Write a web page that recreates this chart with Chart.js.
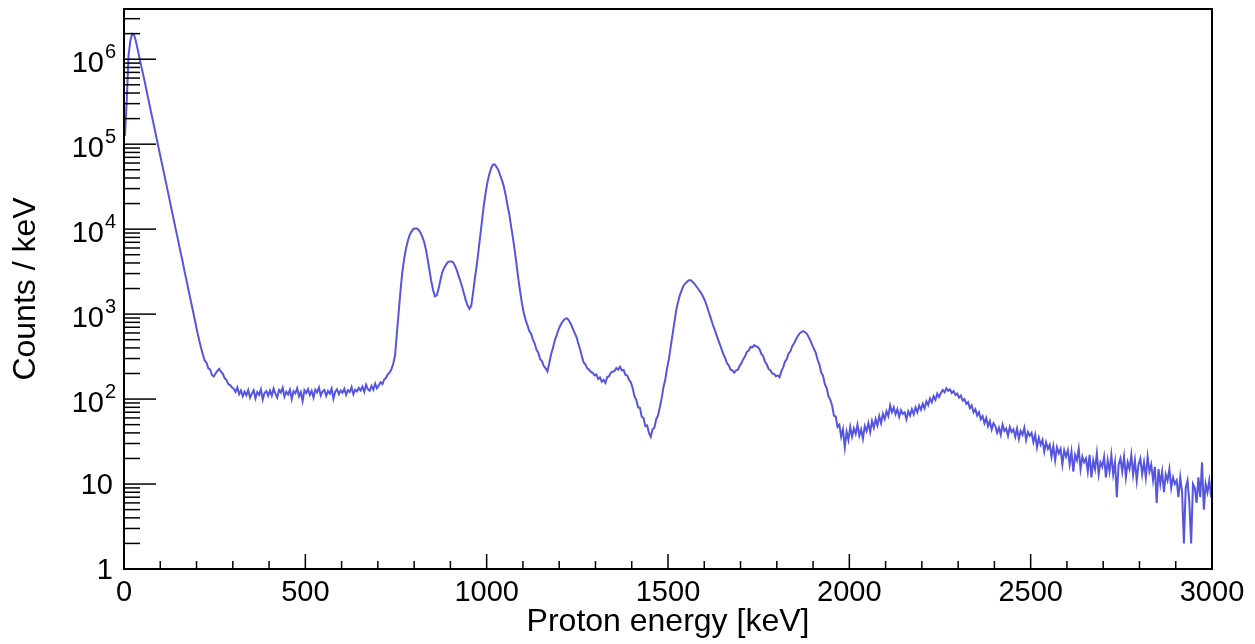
<!DOCTYPE html>
<html>
<head>
<meta charset="utf-8">
<script src="https://cdn.jsdelivr.net/npm/chart.js@4"></script>
<style>
  body { margin: 0; background: #fff; }
  canvas { display: block; }
</style>
</head>
<body>
<canvas id="spectrum" width="1255" height="644"></canvas>
<script>
// proton spectrum, 5 keV bins starting at 0 keV (counts per keV), one row = 50 keV
var binWidth = 5;
var counts = [
  125000, 320000, 1100000, 1650000, 2000000, 1950000, 1650000, 1320000, 1050000, 830000,
  670000, 535000, 420000, 333000, 263000, 209000, 166000, 131000, 104000, 82000,
  65000, 51500, 41000, 32500, 25700, 20400, 16000, 12700, 10000, 8000,
  6300, 5000, 4000, 3100, 2480, 1960, 1550, 1230, 975, 770,
  605, 490, 400, 335, 285, 268, 230, 224, 192, 184,
  200, 214, 226, 210, 198, 176, 168, 150, 146, 138,
  132, 121, 137, 114, 126, 108, 122, 111, 128, 104,
  116, 127, 102, 121, 112, 130, 99, 118, 124, 109,
  126, 110, 133, 115, 104, 128, 119, 136, 107, 122,
  113, 129, 100, 124, 117, 134, 108, 121, 95, 127,
  118, 131, 112, 125, 104, 129, 120, 137, 110, 123,
  128, 109, 124, 116, 133, 101, 122, 130, 114, 126,
  119, 132, 112, 127, 121, 138, 114, 129, 123, 135,
  126, 140, 122, 148, 131, 125, 143, 129, 152, 134,
  145, 158, 150, 170, 178, 196, 205, 225, 262, 330,
  600, 1070, 1900, 3150, 4470, 5900, 7250, 8500, 9300, 10000,
  10200, 10200, 9800, 9100, 8100, 7100, 5750, 4370, 3240, 2400,
  1900, 1620, 1660, 2000, 2500, 3100, 3470, 3800, 4070, 4170,
  4170, 4070, 3720, 3300, 2820, 2450, 2090, 1740, 1450, 1260,
  1150, 1260, 1780, 2630, 3700, 5600, 8500, 12900, 19500, 27500,
  36300, 44700, 52500, 57500, 57500, 53700, 49000, 42700, 37200, 31600,
  25100, 19000, 14800, 10700, 7900, 5600, 3800, 2570, 1820, 1320,
  1020, 850, 740, 630, 590, 500, 450, 380, 350, 295,
  280, 245, 230, 212, 262, 335, 395, 485, 555, 650,
  725, 795, 850, 890, 890, 830, 760, 675, 600, 540,
  455, 385, 320, 270, 255, 230, 222, 208, 204, 190,
  195, 172, 180, 160, 168, 155, 182, 186, 205, 210,
  214, 232, 222, 240, 218, 220, 194, 190, 168, 158,
  135, 108, 98, 80, 79, 62, 60, 48, 49, 40,
  36, 44, 46, 58, 64, 80, 102, 138, 170, 232,
  295, 415, 575, 795, 1100, 1380, 1660, 1900, 2140, 2290,
  2400, 2510, 2510, 2400, 2290, 2140, 2000, 1860, 1740, 1580,
  1410, 1230, 1050, 910, 775, 675, 590, 510, 447, 390,
  340, 305, 265, 250, 222, 218, 205, 218, 220, 245,
  265, 295, 318, 360, 372, 410, 405, 432, 418, 410,
  385, 340, 320, 275, 255, 226, 218, 200, 198, 186,
  190, 180, 212, 236, 275, 295, 345, 365, 420, 450,
  500, 550, 590, 615, 630, 615, 590, 540, 490, 435,
  390, 350, 290, 255, 205, 188, 150, 136, 108, 98,
  84, 64, 62, 47, 50, 36, 44, 27, 41, 33,
  47, 36, 45, 39, 50, 37, 44, 34, 48, 42,
  52, 41, 55, 46, 58, 49, 63, 52, 67, 58,
  72, 63, 84, 70, 80, 66, 76, 62, 74, 67,
  70, 58, 72, 64, 76, 66, 80, 70, 84, 75,
  88, 78, 94, 85, 102, 92, 108, 98, 116, 106,
  118, 128, 120, 134, 125, 130, 118, 124, 112, 116,
  104, 110, 96, 100, 88, 92, 78, 84, 70, 76,
  64, 70, 58, 63, 52, 60, 48, 55, 44, 52,
  48, 40, 46, 38, 50, 42, 45, 37, 47, 41,
  44, 36, 45, 34, 42, 38, 46, 33, 41, 37,
  40, 31, 38, 27, 35, 29, 33, 24, 31, 26,
  29, 21, 28, 19, 27, 23, 26, 17, 25, 21,
  25, 17, 24, 14, 22, 19, 26, 15, 21, 18,
  20, 14, 22, 12, 19, 15, 23, 13, 18, 16,
  21, 12, 19, 14, 22, 13, 18, 7, 17, 20,
  14, 21, 12, 18, 15, 22, 13, 19, 11, 17,
  20, 13, 18, 12, 21, 14, 17, 11, 16, 6,
  15, 10, 14, 8, 13, 11, 15, 9, 12, 10,
  11, 7, 12, 8, 2, 9, 11, 6, 2, 10,
  9, 6, 12, 7, 18, 5, 10, 8, 11, 7
];
var xTickLabels = ['0', '500', '1000', '1500', '2000', '2500', '3000'];
var yDecades = [0, 1, 2, 3, 4, 5, 6];
var xMax = 3000;
var yMax = 3.9e6;

// one point per bin centre
var points = counts.map(function (c, i) { return { x: (i + 0.5) * binWidth, y: c }; });

var FONT = '"Liberation Sans", Arial, Helvetica, sans-serif';

function seg(ctx, x1, y1, x2, y2) {
  ctx.beginPath();
  ctx.moveTo(x1, y1);
  ctx.lineTo(x2, y2);
  ctx.stroke();
}

// ROOT-like frame: ticks pointing inward, 10^n labels
var frame = {
  id: 'frame',
  afterDatasetsDraw: function (chart) {
    var ctx = chart.ctx, a = chart.chartArea;
    var xs = chart.scales.x, ys = chart.scales.y;
    ctx.save();
    ctx.strokeStyle = '#000';
    ctx.lineWidth = 2;
    ctx.strokeRect(a.left, a.top, a.right - a.left, a.bottom - a.top);

    ctx.lineWidth = 1.5;
    for (var v = 0; v <= xMax; v += 100) {
      var px = xs.getPixelForValue(v);
      seg(ctx, px, a.bottom, px, a.bottom - (v % 500 === 0 ? 15 : 8));
    }
    for (var d = 0; d <= 6; d++) {
      for (var m = 1; m <= 9; m++) {
        var val = m * Math.pow(10, d);
        if (val > yMax) break;
        var py = ys.getPixelForValue(val);
        seg(ctx, a.left, py, a.left + (m === 1 ? 32 : 16), py);
      }
    }

    ctx.fillStyle = '#000';
    ctx.font = '29px ' + FONT;
    ctx.textAlign = 'center';
    ctx.textBaseline = 'alphabetic';
    xTickLabels.forEach(function (t) {
      ctx.fillText(t, xs.getPixelForValue(+t), 601);
    });

    yDecades.forEach(function (d) {
      var py = ys.getPixelForValue(Math.pow(10, d));
      ctx.textBaseline = 'middle';
      if (d < 2) {
        ctx.font = '29px ' + FONT;
        ctx.textAlign = 'right';
        ctx.fillText(d === 0 ? '1' : '10', 113, py + 2);
      } else {
        ctx.font = '29px ' + FONT;
        ctx.textAlign = 'right';
        ctx.fillText('10', 104, py + 5);
        ctx.font = '20px ' + FONT;
        ctx.textAlign = 'left';
        ctx.fillText(String(d), 105, py - 7);
      }
    });

    ctx.font = '32px ' + FONT;
    ctx.textAlign = 'center';
    ctx.textBaseline = 'middle';
    ctx.fillText('Proton energy [keV]', (a.left + a.right) / 2, 622);
    ctx.translate(26, (a.top + a.bottom) / 2);
    ctx.rotate(-Math.PI / 2);
    ctx.fillText('Counts / keV', 0, 0);
    ctx.restore();
  }
};

var chart = new Chart(document.getElementById('spectrum'), {
  type: 'line',
  data: {
    datasets: [{
      label: 'Counts / keV',
      data: points,
      borderColor: '#5555dd',
      borderWidth: 2,
      pointRadius: 0,
      tension: 0,
      fill: false
    }]
  },
  options: {
    responsive: false,
    animation: false,
    layout: { padding: { left: 124, right: 43, top: 9, bottom: 75 } },
    plugins: { legend: { display: false }, tooltip: { enabled: false } },
    scales: {
      x: { type: 'linear', min: 0, max: xMax, display: false },
      y: { type: 'logarithmic', min: 1, max: yMax, display: false }
    }
  },
  plugins: [frame]
});
</script>
</body>
</html>
